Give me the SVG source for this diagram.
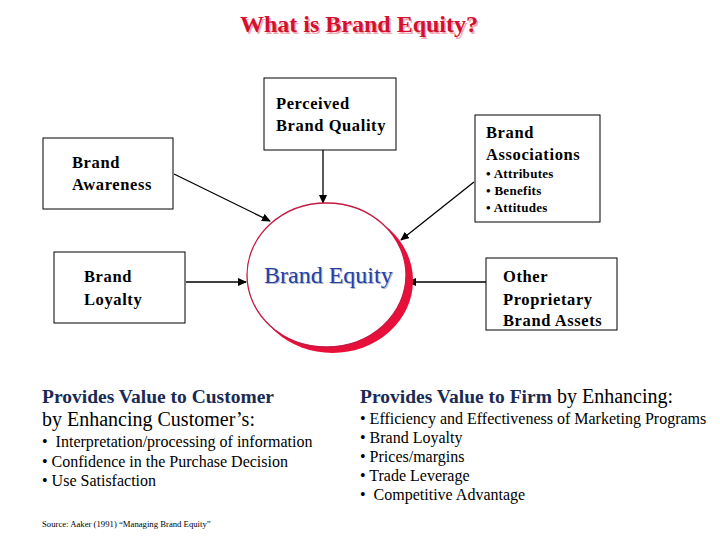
<svg xmlns="http://www.w3.org/2000/svg" width="720" height="540" viewBox="0 0 720 540">
<style>
.box{fill:#fff;stroke:#000;stroke-width:1}
.bt{font-family:"Liberation Serif","Times New Roman",serif;font-weight:bold;font-size:16.5px;letter-spacing:0.6px;fill:#000}
.bs{font-family:"Liberation Serif","Times New Roman",serif;font-weight:bold;font-size:13px;letter-spacing:0.3px;fill:#000}
.conn{stroke:#000;stroke-width:1.3;fill:none}
.hd{font-family:"Liberation Serif","Times New Roman",serif;font-weight:bold;font-size:19.5px;fill:#1a2a55}
.rg{font-family:"Liberation Serif","Times New Roman",serif;font-size:20px;fill:#000}
.li{font-family:"Liberation Serif","Times New Roman",serif;font-size:16px;fill:#000}
</style>
<defs>
<marker id="ah" markerWidth="9" markerHeight="8" refX="8" refY="4" orient="auto" markerUnits="userSpaceOnUse">
<path d="M0,0 L9,4 L0,8 z" fill="#000"/>
</marker>
</defs>
<rect width="720" height="540" fill="#fff"/>
<g id="title">
<text x="360.5" y="33.5" text-anchor="middle" font-family="Liberation Serif,Times New Roman,serif" font-weight="bold" font-size="24" fill="#f0a8b4">What is Brand Equity?</text>
<text x="359" y="32" text-anchor="middle" font-family="Liberation Serif,Times New Roman,serif" font-weight="bold" font-size="24" fill="#d4102e">What is Brand Equity?</text>
</g>
<g id="connectors">
<line class="conn" x1="323" y1="150" x2="323" y2="203" marker-end="url(#ah)"/>
<line class="conn" x1="174" y1="174" x2="270" y2="221" marker-end="url(#ah)"/>
<line class="conn" x1="186" y1="282" x2="246" y2="282" marker-end="url(#ah)"/>
<line class="conn" x1="474" y1="182" x2="401" y2="240" marker-end="url(#ah)"/>
<line class="conn" x1="486" y1="282" x2="408" y2="282" marker-end="url(#ah)"/>
</g>
<g id="brand-equity">
<ellipse cx="332.5" cy="280.5" rx="80.5" ry="72.5" fill="#e8103a"/>
<ellipse cx="326.5" cy="275" rx="79.5" ry="72" fill="#fff" stroke="#c41a44" stroke-width="1.3"/>
<text x="265" y="284" font-family="Liberation Serif,Times New Roman,serif" font-size="24" fill="#b8b8c8">Brand Equity</text>
<text x="264" y="283" font-family="Liberation Serif,Times New Roman,serif" font-size="24" fill="#2442a4">Brand Equity</text>
</g>
<g id="perceived-quality">
<rect class="box" x="264" y="78" width="132" height="72"/>
<text class="bt" x="276" y="109">Perceived</text>
<text class="bt" x="276" y="131">Brand Quality</text>
</g>
<g id="brand-associations">
<rect class="box" x="475" y="115" width="125" height="107"/>
<text class="bt" x="486" y="138">Brand</text>
<text class="bt" x="486" y="160">Associations</text>
<text class="bs" x="486" y="178">• Attributes</text>
<text class="bs" x="486" y="195">• Benefits</text>
<text class="bs" x="486" y="212">• Attitudes</text>
</g>
<g id="brand-awareness">
<rect class="box" x="43" y="138" width="130" height="71"/>
<text class="bt" x="72" y="168">Brand</text>
<text class="bt" x="72" y="190">Awareness</text>
</g>
<g id="brand-loyalty">
<rect class="box" x="54" y="252" width="131" height="71"/>
<text class="bt" x="84" y="282">Brand</text>
<text class="bt" x="84" y="305">Loyalty</text>
</g>
<g id="other-assets">
<rect class="box" x="486" y="258" width="131" height="72"/>
<text class="bt" x="503" y="282">Other</text>
<text class="bt" x="503" y="305">Proprietary</text>
<text class="bt" x="503" y="326">Brand Assets</text>
</g>
<g id="customer-value">
<text class="hd" x="42" y="403">Provides Value to Customer</text>
<text class="rg" x="42" y="426">by Enhancing Customer’s:</text>
<text class="li" x="42" y="447">•&#160; Interpretation/processing of information</text>
<text class="li" x="42" y="467">• Confidence in the Purchase Decision</text>
<text class="li" x="42" y="486">• Use Satisfaction</text>
</g>
<g id="firm-value">
<text x="360" y="403"><tspan class="hd">Provides Value to Firm</tspan><tspan class="rg"> by Enhancing:</tspan></text>
<text class="li" x="360" y="424">• Efficiency and Effectiveness of Marketing Programs</text>
<text class="li" x="360" y="443">• Brand Loyalty</text>
<text class="li" x="360" y="462">• Prices/margins</text>
<text class="li" x="360" y="481">• Trade Leverage</text>
<text class="li" x="360" y="500">•&#160; Competitive Advantage</text>
</g>
<g id="source">
<text x="42" y="527" font-family="Liberation Serif,Times New Roman,serif" font-size="8.7" fill="#000">Source: Aaker (1991) “Managing Brand Equity”</text>
</g>
</svg>
